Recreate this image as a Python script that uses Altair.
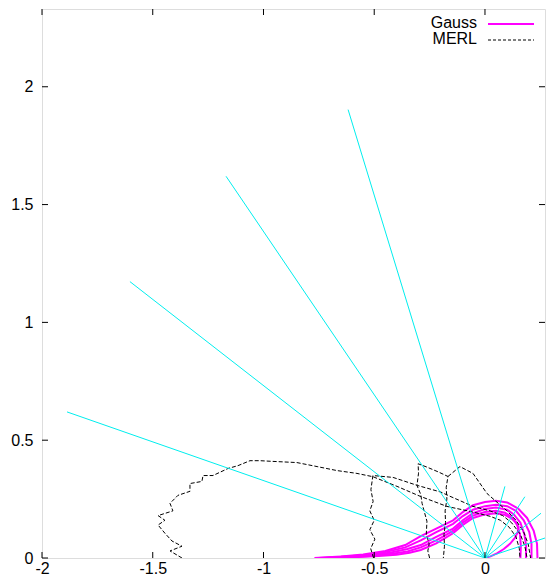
import altair as alt
import pandas as pd

# ---------------- data ----------------
x_ticks = [-2, -1.5, -1, -0.5, 0]
y_ticks = [0, 0.5, 1, 1.5, 2]

# cyan rays from the origin: end points
ray_x = [-0.618, -1.169, -1.603, -1.887, 0.09, 0.18, 0.253, 0.31]
ray_y = [1.903, 1.62, 1.173, 0.62, 0.304, 0.26, 0.19, 0.097]

# Gauss lobes
g1_x = [-0.77, -0.65, -0.55, -0.45, -0.36, -0.29, -0.22, -0.144, -0.1, -0.054, 0.0, 0.05, 0.1, 0.15, 0.19, 0.22, 0.235, 0.237]
g1_y = [0.0, 0.006, 0.015, 0.03, 0.055, 0.093, 0.125, 0.16, 0.195, 0.224, 0.238, 0.243, 0.236, 0.21, 0.17, 0.115, 0.06, 0.0]
g2_x = [-0.75, -0.65, -0.55, -0.45, -0.36, -0.29, -0.22, -0.144, -0.1, -0.054, 0.0, 0.05, 0.1, 0.14, 0.175, 0.2, 0.21, 0.21]
g2_y = [0.0, 0.005, 0.012, 0.025, 0.045, 0.075, 0.11, 0.145, 0.178, 0.205, 0.22, 0.226, 0.22, 0.2, 0.16, 0.11, 0.06, 0.0]
g3_x = [-0.72, -0.62, -0.52, -0.43, -0.35, -0.29, -0.22, -0.144, -0.1, -0.054, 0.0, 0.05, 0.1, 0.13, 0.16, 0.178, 0.186, 0.185]
g3_y = [0.0, 0.005, 0.012, 0.022, 0.038, 0.055, 0.09, 0.125, 0.16, 0.19, 0.208, 0.214, 0.205, 0.185, 0.15, 0.1, 0.05, 0.0]
g4_x = [-0.7, -0.6, -0.5, -0.42, -0.35, -0.29, -0.22, -0.144, -0.1, -0.054, 0.0, 0.05, 0.09, 0.12, 0.145, 0.158, 0.162, 0.16]
g4_y = [0.0, 0.004, 0.01, 0.018, 0.028, 0.045, 0.075, 0.115, 0.15, 0.18, 0.195, 0.2, 0.192, 0.175, 0.14, 0.1, 0.05, 0.0]
g5_x = [-0.68, -0.58, -0.48, -0.4, -0.34, -0.29, -0.22, -0.144, -0.1, -0.054, 0.0, 0.05, 0.09, 0.12, 0.14, 0.152, 0.148, 0.135, 0.113, 0.085, 0.054, 0.025, 0.0]
g5_y = [0.0, 0.004, 0.008, 0.014, 0.022, 0.034, 0.062, 0.105, 0.14, 0.17, 0.185, 0.19, 0.183, 0.168, 0.152, 0.13, 0.11, 0.085, 0.06, 0.038, 0.02, 0.007, 0.0]

# MERL measured curves
m1_x = [-1.368, -1.422, -1.368, -1.413, -1.445, -1.476, -1.445, -1.476, -1.409, -1.422, -1.386, -1.332,
        -1.332, -1.278, -1.273, -1.228, -1.16, -1.115, -1.061, -1.016, -0.957, -0.849, -0.758, -0.668,
        -0.578, -0.506, -0.397, -0.293, -0.172, -0.068, 0.023, 0.07, 0.11, 0.14, 0.155, 0.158]
m1_y = [0.0, 0.03, 0.05, 0.072, 0.105, 0.14, 0.16, 0.18, 0.2, 0.232, 0.266, 0.283,
        0.316, 0.325, 0.35, 0.35, 0.38, 0.392, 0.413, 0.413, 0.41, 0.405, 0.388, 0.371,
        0.359, 0.345, 0.304, 0.262, 0.219, 0.198, 0.177, 0.16, 0.13, 0.09, 0.04, 0.0]
m2_x = [-0.503, -0.516, -0.497, -0.52, -0.5, -0.52, -0.505, -0.515, -0.506, -0.415, -0.305, -0.2,
        -0.158, -0.054, 0.023, 0.08, 0.12, 0.16, 0.18, 0.19]
m2_y = [0.0, 0.04, 0.08, 0.12, 0.16, 0.2, 0.24, 0.29, 0.35, 0.342, 0.308, 0.28,
        0.262, 0.219, 0.2, 0.18, 0.15, 0.1, 0.05, 0.0]
m3_x = [-0.25, -0.258, -0.252, -0.265, -0.262, -0.275, -0.284, -0.29, -0.307, -0.3, -0.302,
        -0.26, -0.21, -0.167, -0.175, -0.172, -0.18, -0.178, -0.185, -0.183, -0.188]
m3_y = [0.0, 0.03, 0.06, 0.1, 0.156, 0.2, 0.232, 0.27, 0.308, 0.36, 0.4,
        0.385, 0.365, 0.346, 0.3, 0.25, 0.2, 0.15, 0.1, 0.05, 0.0]
m4_x = [-0.167, -0.113, -0.054, 0.009, 0.05, 0.1, 0.14, 0.175, 0.195, 0.206]
m4_y = [0.346, 0.388, 0.359, 0.274, 0.24, 0.2, 0.16, 0.11, 0.06, 0.0]

legend_labels = ["Gauss", "MERL"]

# ---------------- layout / style ----------------
W, H = 503, 549
XMIN, XMAX = -2.0, 0.271
YMIN, YMAX = 0.0, 2.33
FONT = "Liberation Sans"
FS = 16
MAGENTA = "#ff00ff"
CYAN = "#00eeee"


def curves(pairs):
    frames = []
    for name, xs, ys in pairs:
        frames.append(pd.DataFrame({"x": xs, "y": ys, "curve": name, "i": list(range(len(xs)))}))
    return pd.concat(frames, ignore_index=True)


gauss_df = curves([("g1", g1_x, g1_y), ("g2", g2_x, g2_y), ("g3", g3_x, g3_y),
                   ("g4", g4_x, g4_y), ("g5", g5_x, g5_y)])
merl_df = curves([("m1", m1_x, m1_y), ("m2", m2_x, m2_y), ("m3", m3_x, m3_y), ("m4", m4_x, m4_y)])
rays_df = pd.DataFrame({"x": [0.0] * len(ray_x), "y": [0.0] * len(ray_y), "x1": ray_x, "y1": ray_y})
xt_df = pd.DataFrame({"x": x_ticks})
yt_df = pd.DataFrame({"y": y_ticks})

xs = alt.Scale(domain=[XMIN, XMAX], nice=False, zero=False)
ys = alt.Scale(domain=[YMIN, YMAX], nice=False, zero=False)
ax_x = alt.Axis(values=x_ticks, title=None, ticks=False, domain=False, grid=False,
                labelExpr="toString(datum.value)", labelFont=FONT, labelFontSize=FS,
                labelColor="black", labelPadding=2, labelFlush=False)
ax_y = alt.Axis(values=y_ticks, title=None, ticks=False, domain=False, grid=False,
                labelExpr="toString(datum.value)", labelFont=FONT, labelFontSize=FS,
                labelColor="black", labelPadding=9, labelFlush=False)

X = alt.X("x:Q", scale=xs, axis=ax_x)
Y = alt.Y("y:Q", scale=ys, axis=ax_y)

gauss = alt.Chart(gauss_df).mark_line(color=MAGENTA, strokeWidth=2, clip=True).encode(
    x=X, y=Y, detail="curve:N", order="i:Q")
merl = alt.Chart(merl_df).mark_line(color="black", strokeWidth=1, strokeDash=[4, 2], clip=True).encode(
    x=X, y=Y, detail="curve:N", order="i:Q")
rays = alt.Chart(rays_df).mark_rule(color=CYAN, strokeWidth=1, clip=True).encode(
    x=X, y=Y, x2="x1:Q", y2="y1:Q")

tick_len = 6
xt_bottom = alt.Chart(xt_df).mark_rule(color="black").encode(
    x=X, y=alt.value(H), y2=alt.value(H - tick_len))
xt_top = alt.Chart(xt_df).mark_rule(color="black").encode(
    x=X, y=alt.value(0), y2=alt.value(tick_len))
yt_left = alt.Chart(yt_df).mark_rule(color="black").encode(
    y=Y, x=alt.value(0), x2=alt.value(tick_len))
yt_right = alt.Chart(yt_df).mark_rule(color="black").encode(
    y=Y, x=alt.value(W), x2=alt.value(W - tick_len))

leg_df = pd.DataFrame({"label": legend_labels})
leg_text_g = alt.Chart(leg_df).transform_filter("datum.label == 'Gauss'").mark_text(
    align="right", baseline="middle", font=FONT, fontSize=FS, color="black").encode(
    text="label:N", x=alt.value(435), y=alt.value(14))
leg_text_m = alt.Chart(leg_df).transform_filter("datum.label == 'MERL'").mark_text(
    align="right", baseline="middle", font=FONT, fontSize=FS, color="black").encode(
    text="label:N", x=alt.value(435), y=alt.value(30))
leg_line_g = alt.Chart(leg_df).transform_filter("datum.label == 'Gauss'").mark_rule(
    color=MAGENTA, strokeWidth=2).encode(x=alt.value(446), x2=alt.value(492), y=alt.value(15))
leg_line_m = alt.Chart(leg_df).transform_filter("datum.label == 'MERL'").mark_rule(
    color="black", strokeWidth=1, strokeDash=[3, 2]).encode(x=alt.value(446), x2=alt.value(492), y=alt.value(31))

chart = alt.layer(
    gauss, merl, rays, xt_bottom, xt_top, yt_left, yt_right,
    leg_text_g, leg_text_m, leg_line_g, leg_line_m
).properties(
    width=W, height=H,
    autosize=alt.AutoSizeParams(type="none"),
    padding={"left": 34, "top": 1, "right": 1, "bottom": 19},
).configure_view(stroke="black", strokeWidth=1).configure(background="white")

chart.save("out.html", embed_options={"renderer": "svg", "actions": False})
